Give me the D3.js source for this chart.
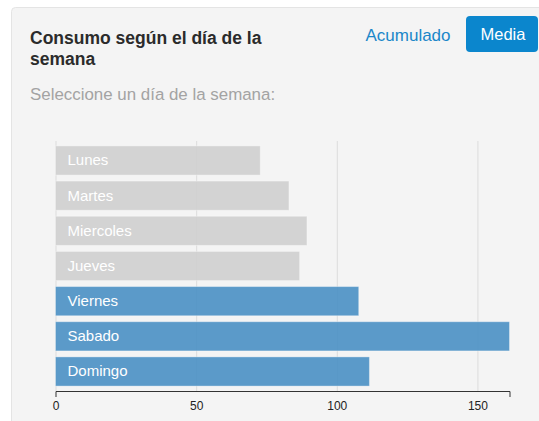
<!DOCTYPE html>
<html>
<head>
<meta charset="utf-8">
<script src="https://cdn.jsdelivr.net/npm/d3@7"></script>
<style>
  html, body { margin: 0; padding: 0; background: #fff; }
  svg { display: block; font-family: "Liberation Sans", Arial, sans-serif; }
</style>
</head>
<body>
<svg id="chart" width="539" height="421"></svg>
<script>
const days = ["Lunes", "Martes", "Miercoles", "Jueves", "Viernes", "Sabado", "Domingo"];
const values = [72.8, 83.0, 89.4, 86.8, 107.8, 161.4, 111.6];
const highlighted = ["Viernes", "Sabado", "Domingo"];
const tickValues = [0, 50, 100, 150];
const titleLines = ["Consumo según el día de la", "semana"];
const subtitle = "Seleccione un día de la semana:";
const toggleLabels = ["Acumulado", "Media"];

const svg = d3.select("#chart");

// panel
svg.append("rect")
  .attr("x", 11.5).attr("y", 7.5)
  .attr("width", 560).attr("height", 440)
  .attr("rx", 4)
  .attr("fill", "#f4f4f4")
  .attr("stroke", "#e4e4e4");

// title
const title = svg.append("text")
  .attr("x", 30).attr("y", 43.5)
  .attr("fill", "#2b2b2b")
  .attr("font-weight", "bold")
  .attr("font-size", "17.5px");
titleLines.forEach((t, i) => {
  title.append("tspan").attr("x", 30).attr("dy", i === 0 ? 0 : 21.5).text(t);
});

svg.append("text")
  .attr("x", 30).attr("y", 100)
  .attr("fill", "#a3a3a3")
  .attr("font-size", "16.9px")
  .text(subtitle);

// toggle
svg.append("text")
  .attr("x", 408).attr("y", 40.5)
  .attr("text-anchor", "middle")
  .attr("fill", "#1a87c9")
  .attr("font-size", "17px")
  .text(toggleLabels[0]);

svg.append("rect")
  .attr("x", 466).attr("y", 16)
  .attr("width", 72).attr("height", 36)
  .attr("rx", 4)
  .attr("fill", "#0b86cd");
svg.append("text")
  .attr("x", 503).attr("y", 40)
  .attr("text-anchor", "middle")
  .attr("fill", "#ffffff")
  .attr("font-size", "16.5px")
  .text(toggleLabels[1]);

// chart
const x = d3.scaleLinear()
  .domain([0, d3.max(values)])
  .range([55.5, 509.5]);

const y = d3.scaleBand()
  .domain(days)
  .range([141, 391])
  .paddingInner(0.17)
  .paddingOuter(0.14);

const g = svg.append("g");

// grid lines (below bars)
g.append("g")
  .attr("transform", "translate(0,391)")
  .call(d3.axisBottom(x).tickValues(tickValues).tickSizeInner(-(391 - 141)).tickSizeOuter(0).tickFormat(""))
  .call(s => s.select(".domain").remove())
  .call(s => s.selectAll(".tick line").attr("stroke", "#dcdcdc"));

const data = days.map((d, i) => ({ day: d, value: values[i] }));

g.selectAll("rect.bar")
  .data(data)
  .join("rect")
  .attr("class", "bar")
  .attr("x", x(0))
  .attr("y", d => y(d.day))
  .attr("width", d => x(d.value) - x(0))
  .attr("height", y.bandwidth())
  .attr("fill", d => highlighted.includes(d.day) ? "#4a90c4" : "#cfcfcf")
  .attr("fill-opacity", 0.9)
  .attr("stroke", "#ffffff")
  .attr("stroke-opacity", 0.35);

g.selectAll("text.lbl")
  .data(data)
  .join("text")
  .attr("class", "lbl")
  .attr("x", x(0) + 12)
  .attr("y", d => y(d.day) + y.bandwidth() / 2)
  .attr("dy", "0.33em")
  .attr("fill", "#ffffff")
  .attr("font-size", "15px")
  .text(d => d.day);

// axis
const axis = d3.axisBottom(x)
  .tickValues(tickValues)
  .tickSizeInner(0)
  .tickSizeOuter(6)
  .tickPadding(10)
  .tickFormat(d3.format("d"));

const ax = g.append("g")
  .attr("transform", "translate(0,391)")
  .call(axis);
ax.select(".domain").attr("stroke", "#333");
ax.selectAll(".tick text")
  .attr("fill", "#222")
  .attr("font-size", "12px")
  .attr("font-family", "Liberation Sans, Arial, sans-serif");
</script>
</body>
</html>
